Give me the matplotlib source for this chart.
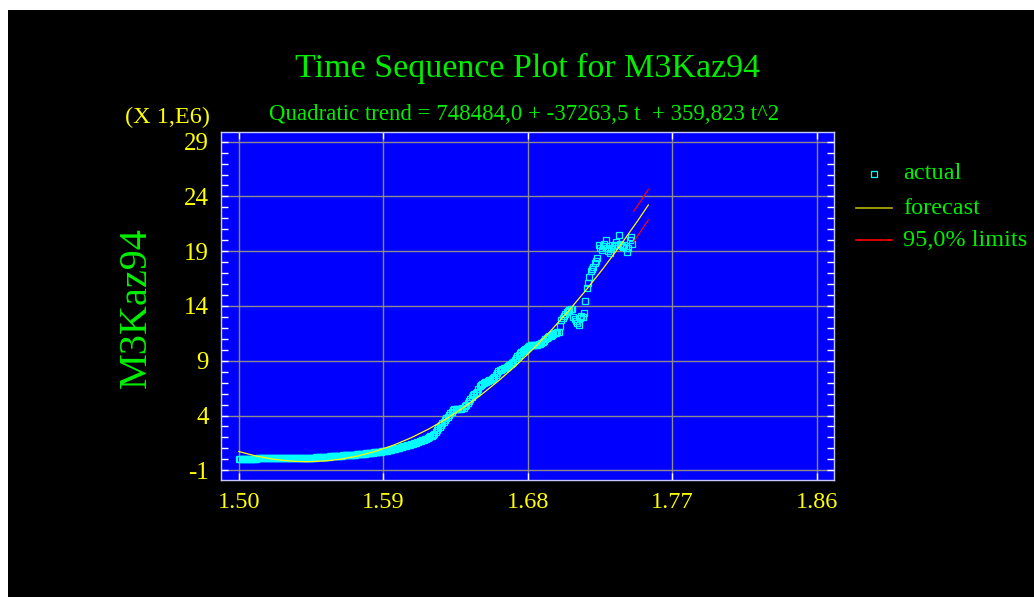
import matplotlib
matplotlib.use("Agg")
import matplotlib.pyplot as plt
import numpy as np
from matplotlib.patches import Rectangle
from matplotlib.lines import Line2D
from matplotlib.ticker import FixedLocator

plt.rcParams["axes.unicode_minus"] = False

# ---------------- data ----------------
x_start = 1.50
period = 1.0 / 1200.0

actual = [
    0.00, 0.01, 0.01, 0.02, 0.02, 0.02, 0.03, 0.04, 0.04, 0.05,
    0.05, 0.06, 0.06, 0.07, 0.08, 0.08, 0.08, 0.09, 0.09, 0.09,
    0.09, 0.10, 0.10, 0.10, 0.10, 0.10, 0.10, 0.10, 0.10, 0.10,
    0.10, 0.10, 0.10, 0.10, 0.10, 0.10, 0.11, 0.10, 0.10, 0.10,
    0.10, 0.10, 0.11, 0.11, 0.11, 0.11, 0.11, 0.12, 0.12, 0.12,
    0.12, 0.13, 0.13, 0.14, 0.14, 0.15, 0.15, 0.16, 0.17, 0.18,
    0.19, 0.19, 0.20, 0.21, 0.22, 0.23, 0.24, 0.25, 0.26, 0.27,
    0.28, 0.29, 0.30, 0.31, 0.32, 0.33, 0.34, 0.35, 0.36, 0.37,
    0.38, 0.39, 0.40, 0.41, 0.42, 0.42, 0.43, 0.44, 0.45, 0.46,
    0.47, 0.48, 0.49, 0.51, 0.52, 0.54, 0.55, 0.57, 0.58, 0.60,
    0.61, 0.63, 0.64, 0.66, 0.68, 0.69, 0.71, 0.72, 0.74, 0.76,
    0.78, 0.80, 0.82, 0.84, 0.87, 0.90, 0.93, 0.97, 1.01, 1.05,
    1.08, 1.11, 1.14, 1.18, 1.21, 1.24, 1.28, 1.31, 1.35, 1.39,
    1.43, 1.46, 1.50, 1.54, 1.59, 1.63, 1.68, 1.72, 1.77, 1.82,
    1.88, 1.95, 2.02, 2.09, 2.15, 2.24, 2.35, 2.50, 2.68, 2.83,
    2.98, 3.13, 3.29, 3.44, 3.60, 3.75, 3.90, 4.05, 4.20, 4.35,
    4.50, 4.58, 4.62, 4.60, 4.58, 4.60, 4.63, 4.67, 4.72, 4.84,
    4.96, 5.15, 5.35, 5.55, 5.72, 5.85, 5.95, 6.05, 6.18, 6.45,
    6.70, 6.78, 6.85, 6.95, 7.02, 7.09, 7.15, 7.20, 7.25, 7.32,
    7.40, 7.55, 7.72, 7.90, 8.05, 8.16, 8.20, 8.25, 8.30, 8.38,
    8.46, 8.54, 8.62, 8.70, 8.80, 8.92, 9.08, 9.24, 9.40, 9.54,
    9.68, 9.78, 9.86, 9.95, 10.05, 10.16, 10.28, 10.34, 10.40, 10.42,
    10.43, 10.44, 10.46, 10.48, 10.50, 10.55, 10.60, 10.72, 10.84, 10.95,
    11.08, 11.20, 11.25, 11.30, 11.35, 11.42, 11.50, 11.55, 11.60, 11.65,
    12.20, 12.70, 12.90, 13.10, 13.30, 13.48, 13.55, 13.60, 13.68, 13.75,
    13.00, 12.80, 12.60, 12.45, 12.30, 12.90, 13.10, 13.00, 13.40, 14.46,
    15.60, 16.10, 16.67, 17.20, 17.40, 17.60, 17.95, 18.10, 18.35, 19.57,
    19.30, 19.10, 19.50, 19.70, 20.00, 19.30, 19.00, 18.80, 19.20, 19.57,
    19.50, 19.57, 19.80, 19.60, 20.50, 19.70, 19.50, 19.40, 19.60, 19.30,
    18.96, 19.27, 20.00, 20.33, 19.70,
]

# quadratic trend read at selected periods t (values in millions)
forecast_t = [1, 14, 27, 40, 52, 65, 78, 91, 104, 117, 130, 143, 156,
              169, 182, 195, 208, 221, 234, 247, 260, 273, 286, 299, 307]
forecast_v = [0.712, 0.297, 0.005, -0.166, -0.216, -0.153, 0.031, 0.337,
              0.765, 1.314, 1.985, 2.778, 3.692, 4.728, 5.885, 7.164,
              8.565, 10.087, 11.731, 13.497, 15.384, 17.393, 19.523,
              21.775, 23.222]

limit_t = [296, 301, 307]
upper_v = [22.65, 23.51, 24.65]
lower_v = [19.85, 20.77, 21.85]

x_ticks = [1.50, 1.59, 1.68, 1.77, 1.86]
x_tick_labels = ["1.50", "1.59", "1.68", "1.77", "1.86"]
y_ticks = [-1, 4, 9, 14, 19, 24, 29]

title = "Time Sequence Plot for M3Kaz94"
subtitle = "Quadratic trend = 748484,0 + -37263,5 t  + 359,823 t^2"
ylabel = "M3Kaz94"
legend_labels = ["actual", "forecast", "95,0% limits"]

# ---------------- figure ----------------
W, H = 1034, 597
fig = plt.figure(figsize=(W / 100, H / 100), dpi=100, facecolor="white")
fig.patches.append(Rectangle((8 / W, 0), 1 - 8 / W, 1 - 10 / H,
                             transform=fig.transFigure, facecolor="black",
                             edgecolor="none", zorder=-10))

serif = ["Liberation Serif", "DejaVu Serif"]
GREEN = "#00ee00"
YELLOW = "#ffff00"

ax = fig.add_axes([221.2 / W, 1 - 480 / H, (833.5 - 221.2) / W, (480 - 131.7) / H])
ax.set_facecolor("#0000ff")

xa = [x_start + i * period for i in range(len(actual))]
xf = [x_start + (t - 1) * period for t in forecast_t]
xl = [x_start + (t - 1) * period for t in limit_t]

ax.plot(xa, actual, linestyle="none", marker="s", markersize=4.0,
        markerfacecolor="none", markeredgecolor="#00ffff", markeredgewidth=0.9,
        zorder=3)
ax.plot(xf, forecast_v, color=YELLOW, lw=0.9, zorder=4)
ax.plot(xl, upper_v, color="#ff0000", lw=0.9, zorder=4)
ax.plot(xl, lower_v, color="#ff0000", lw=0.9, zorder=4)

ax.set_xlim(1.4890, 1.8703)
ax.set_ylim(-1.886, 29.91)
ax.set_xticks(x_ticks)
ax.set_xticklabels(x_tick_labels)
ax.set_yticks(y_ticks)
ax.yaxis.set_minor_locator(FixedLocator(list(range(-1, 30))))

ax.grid(True, which="major", color="#8c8c8c", lw=1.0, zorder=1)
ax.set_axisbelow(True)

for sp in ax.spines.values():
    sp.set_color("#c8c8ff")
    sp.set_linewidth(1.0)

ax.tick_params(axis="both", which="both", direction="in", colors="white",
               width=1.0)
ax.tick_params(axis="y", which="both", left=True, right=True, length=5)
ax.tick_params(axis="x", which="major", top=True, bottom=True, length=5)
ax.tick_params(axis="x", which="major", pad=9, labelcolor=YELLOW, labelsize=17.5)
ax.tick_params(axis="y", which="major", pad=9, labelcolor=YELLOW, labelsize=18)
for lab in ax.get_xticklabels() + ax.get_yticklabels():
    lab.set_family(serif)

# ---------------- texts ----------------
fig.text(527.5 / W, 1 - 77 / H, title, ha="center", va="baseline",
         color=GREEN, fontsize=24.5, family=serif)
fig.text(524.5 / W, 1 - 120.5 / H, subtitle, ha="center", va="baseline",
         color=GREEN, fontsize=16.5, family=serif)
fig.text(210 / W, 1 - 123 / H, "(X 1,E6)", ha="right", va="baseline",
         color=YELLOW, fontsize=17.5, family=serif)
fig.text(136 / W, 1 - 308 / H, ylabel, ha="center", va="center",
         rotation=90, color=GREEN, fontsize=29, family=serif)

# ---------------- legend ----------------
fig.lines.append(Line2D([873.7 / W], [1 - 174.3 / H], transform=fig.transFigure,
                        linestyle="none", marker="s", markersize=4.0,
                        markerfacecolor="none", markeredgecolor="#00ffff",
                        markeredgewidth=0.9))
fig.lines.append(Line2D([856 / W, 891.5 / W], [1 - 207.7 / H] * 2,
                        transform=fig.transFigure, color="#b4b400", lw=1.2))
fig.lines.append(Line2D([856 / W, 891.5 / W], [1 - 240 / H] * 2,
                        transform=fig.transFigure, color="#ff0000", lw=1.2))
for lab, yy in zip(legend_labels, [174, 208, 240]):
    fig.text(903 / W, 1 - yy / H, lab, ha="left", va="center",
             color=GREEN, fontsize=17.5, family=serif)

fig.savefig("out.png", dpi=100, facecolor=fig.get_facecolor())
